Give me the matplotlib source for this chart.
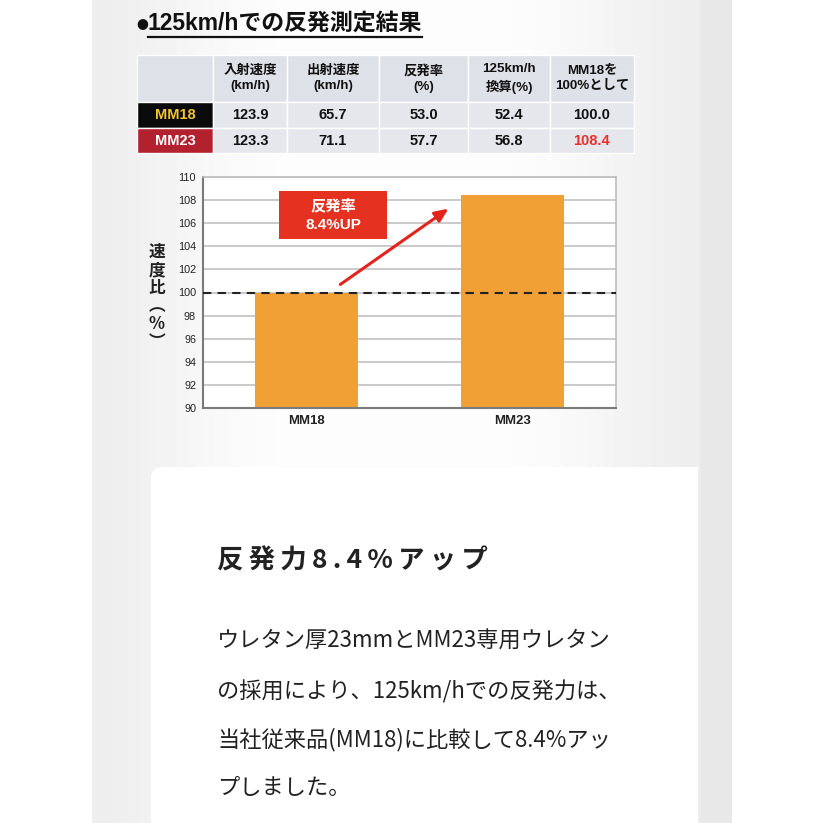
import numpy as np
import matplotlib
matplotlib.use("Agg")
import matplotlib.pyplot as plt
from matplotlib.patches import Rectangle, FancyBboxPatch

# Data
title = "125km/hでの反発測定結果"
headers = ["入射速度\n(km/h)", "出射速度\n(km/h)", "反発率\n(%)", "125km/h\n換算(%)", "MM18を\n100%として"]
models = ["MM18", "MM23"]
incident = [123.9, 123.3]
exit_speed = [65.7, 71.1]
rebound = [53.0, 57.7]
at_125 = [52.4, 56.8]
relative = [100.0, 108.4]
yticks = list(range(90, 111, 2))
ylabel = "速\n度\n比\n︵\n%\n︶"
callout = "反発率\n8.4%UP"
heading = "反発力8.4%アップ"
body = ["ウレタン厚23mmとMM23専用ウレタン",
        "の採用により、125km/hでの反発力は、",
        "当社従来品(MM18)に比較して8.4%アッ",
        "プしました。"]

LAT = ["Liberation Sans", "Noto Sans CJK JP", "DejaVu Sans"]
JP = ["Noto Sans CJK JP", "DejaVu Sans"]

W = 823
fig = plt.figure(figsize=(8.23, 8.23), dpi=100)
bg = fig.add_axes([0, 0, 1, 1])
bg.set_xlim(0, W)
bg.set_ylim(W, 0)
bg.axis("off")

# background: white page, gray panel with a lighter centre
xs = np.arange(W)
v = 236 + 17 * np.exp(-((xs - 395) / 235.0) ** 4)
img = np.full((W, W), 255.0)
panel = (xs >= 92) & (xs < 732)
img[:, panel] = v[panel]
img[:, (xs >= 700) & (xs < 732)] = 232
bg.imshow(img, cmap="gray", vmin=0, vmax=255, extent=(0, W, W, 0),
          aspect="auto", zorder=0, interpolation="bilinear")

# white card with rounded top-left corner
bg.add_patch(FancyBboxPatch((151, 467), 547, 400, boxstyle="round,pad=0,rounding_size=12",
                            fc="white", ec="none", zorder=1))
bg.add_patch(Rectangle((660, 467), 38, 40, fc="white", ec="none", zorder=1))

# title
bg.text(142, 25, "●", fontsize=8.5, family=JP, color="#111", ha="center", va="center", zorder=3)
t = bg.text(148, 23, title, fontsize=16.5, fontweight="bold", family=LAT,
            color="#111", va="center", zorder=3)
fig.canvas.draw()
bb = t.get_window_extent().transformed(bg.transData.inverted())
bg.plot([bb.x0, bb.x1], [37, 37], color="#111", lw=1.6, zorder=3)

# table
col_x = [137, 213, 287, 379, 468, 550, 634]
row_y = [55, 102, 128, 153]
for i in range(3):
    for j in range(6):
        x0, x1 = col_x[j], col_x[j + 1]
        y0, y1 = row_y[i], row_y[i + 1]
        fc = "#dfe1e8" if i == 0 else "#e5e7ed"
        if j == 0 and i == 1:
            fc = "#0a0a0a"
        if j == 0 and i == 2:
            fc = "#b3202e"
        bg.add_patch(Rectangle((x0, y0), x1 - x0, y1 - y0, fc=fc, ec="white", lw=1, zorder=2))

for j, h in enumerate(headers):
    cx = (col_x[j + 1] + col_x[j + 2]) / 2
    bg.text(cx, (row_y[0] + row_y[1]) / 2, h, fontsize=9.6, fontweight="bold", family=LAT,
            ha="center", va="center", linespacing=1.4, color="#111", zorder=3)

rows = [incident, exit_speed, rebound, at_125, relative]
for i, m in enumerate(models):
    cy = (row_y[i + 1] + row_y[i + 2]) / 2
    bg.text((col_x[0] + col_x[1]) / 2, cy, m, fontsize=10.5, fontweight="bold", family=LAT,
            ha="center", va="center", color="#f2c530" if i == 0 else "white", zorder=3)
    for j, col in enumerate(rows):
        cx = (col_x[j + 1] + col_x[j + 2]) / 2
        color = "#e8302a" if (j == 4 and i == 1) else "#111"
        bg.text(cx, cy, f"{col[i]:.1f}", fontsize=10.5, fontweight="bold", family=LAT,
                ha="center", va="center", color=color, zorder=3)

# y label
bg.text(157, 297, ylabel, fontsize=12, fontweight="bold", family=JP, color="#222",
        ha="center", va="center", linespacing=1.0, zorder=3)

# chart
ax = fig.add_axes([203 / W, 1 - 408 / W, 413 / W, 231 / W])
ax.set_facecolor("white")
ax.bar(range(len(models)), relative, width=0.5, color="#f0a035", zorder=2)
ax.set_xlim(-0.5, 1.5)
ax.set_ylim(90, 110)
ax.set_yticks(yticks)
ax.set_xticks(range(len(models)))
ax.set_xticklabels(models, fontsize=9.5, fontweight="bold", family=LAT, color="#222")
ax.set_yticklabels([str(y) for y in yticks], fontsize=7.8, family=LAT, color="#222")
ax.tick_params(axis="both", length=0)
ax.tick_params(axis="y", pad=5)
ax.tick_params(axis="x", pad=5)
ax.grid(axis="y", color="#c6c6c6", lw=1.3, zorder=0)
ax.set_axisbelow(True)
for s in ["top", "right"]:
    ax.spines[s].set_color("#bdbdbd")
    ax.spines[s].set_linewidth(1.2)
for s in ["left", "bottom"]:
    ax.spines[s].set_color("#7a7a7a")
    ax.spines[s].set_linewidth(1.5)
ax.axhline(relative[0], color="#222", lw=1.5, ls=(0, (4, 3)), zorder=3)

# callout
ax.add_patch(Rectangle((-0.132, 104.63), 0.523, 4.16, fc="#e5311f", ec="none", zorder=4))
ax.text(0.13, 106.71, callout, fontsize=11, fontweight="bold", family=LAT, color="white",
        ha="center", va="center", linespacing=1.45, zorder=5)
ax.annotate("", xy=(0.70, 107.4), xytext=(0.154, 100.56),
            arrowprops=dict(arrowstyle="-|>,head_length=0.8,head_width=0.35",
                            color="#e3231c", lw=2.2), zorder=5)

# card text
sp = "\u2009"
bg.text(217, 561, sp.join(heading), fontsize=19, fontweight="bold", family=JP,
        color="#222", va="center", zorder=3)
for k, line in enumerate(body):
    bg.text(217, [641, 692, 740, 787][k], line, fontsize=16, family=JP,
            color="#222", va="center", zorder=3)

fig.savefig("out.png", dpi=100)
